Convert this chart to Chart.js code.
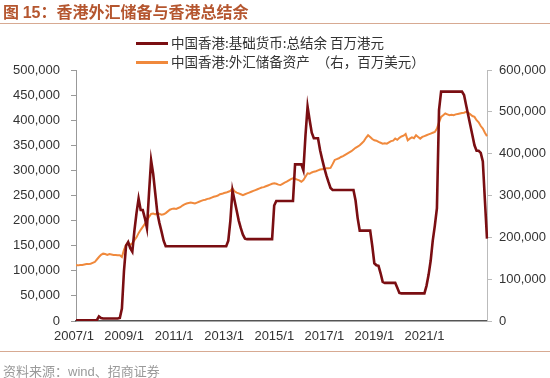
<!DOCTYPE html>
<html><head><meta charset="utf-8">
<script src="https://cdn.jsdelivr.net/npm/chart.js@4/dist/chart.umd.min.js"></script>
<style>
html,body{margin:0;padding:0;background:#fff;}
#wrap{position:relative;width:550px;height:378px;overflow:hidden;}
canvas{position:absolute;left:0;top:0;}
.title{position:absolute;left:3px;top:1px;font-family:"Noto Sans CJK SC","Liberation Sans",sans-serif;font-weight:bold;font-size:16px;line-height:20px;color:#b5562f;white-space:nowrap;}
.title .num{font-family:"Liberation Sans",Arial,sans-serif;}
.hr{position:absolute;left:0;width:550px;height:1px;background:#d7aa92;}
.foot{position:absolute;left:3px;top:361px;font-family:"Noto Sans CJK SC",sans-serif;font-size:13px;color:#9a9a9a;white-space:nowrap;}
.foot .lat{font-family:"Liberation Sans",Arial,sans-serif;}
.leg{position:absolute;left:136px;font-family:"Noto Sans CJK SC",sans-serif;font-size:13.5px;color:#333;white-space:nowrap;line-height:16px;}
.leg i{display:inline-block;width:32px;height:2.5px;vertical-align:middle;margin-right:3px;position:relative;top:-1px;}
.leg .sp{display:inline-block;width:7px;}
</style></head>
<body>
<div id="wrap">
<canvas id="c" width="550" height="378"></canvas>
<div class="title">图 <span class="num">15</span>：香港外汇储备与香港总结余</div>
<div class="hr" style="top:23px"></div>
<div class="leg" style="top:34px"><i style="background:#7a0e12"></i>中国香港:基础货币:总结余 百万港元</div>
<div class="leg" style="top:53px"><i style="background:#f0893c"></i>中国香港:外汇储备资产<span class="sp"></span>（右，百万美元）</div>
<div class="hr" style="top:351px"></div>
<div class="foot">资料来源：<span class="lat">wind</span>、招商证券</div>
</div>
<script>
// x tick labels shown on the axis
const xTickLabels = ['2007/1','2009/1','2011/1','2013/1','2015/1','2017/1','2019/1','2021/1'];
// monthly categories 2007/1 .. 2023/6
const categories = [];
for (let y = 2007; y <= 2023; y++) {
  for (let m = 1; m <= 12; m++) {
    if (y === 2023 && m > 6) break;
    categories.push(y + '/' + m);
  }
}
// 中国香港:基础货币:总结余 (百万港元, left axis)
const aggregateBalance = [
 1500,1500,1500,1500,1500,1500,1500,1500,1500,1500,1500,
 9000,6000,
 5000,5000,5000,5000,5000,5000,5000,5000,
 6000,25000,100000,150000,157000,145000,138000,180000,215000,244000,
 221000,221000,205000,185000,255000,320000,293000,254000,215000,195000,
 178000,160000,
 149000,149000,149000,149000,149000,149000,149000,149000,149000,149000,
 149000,149000,149000,149000,149000,149000,149000,149000,149000,149000,
 149000,149000,149000,149000,149000,149000,149000,149000,149000,149000,
 160000,200000,260000,240000,220000,200000,185000,172000,164000,
 163000,163000,163000,163000,163000,163000,163000,163000,163000,163000,163000,163000,163000,
 230000,
 239000,239000,239000,239000,239000,239000,239000,239000,239000,
 312000,312000,312000,312000,
 300000,370000,427000,400000,375000,
 364000,364000,364000,
 340000,322000,305000,290000,277000,265000,
 261000,261000,261000,261000,261000,261000,261000,261000,261000,261000,261000,
 240000,205000,
 180000,180000,180000,180000,180000,180000,
 150000,115000,111000,110000,95000,78000,
 76000,76000,76000,76000,76000,76000,
 66000,56000,
 55000,55000,55000,55000,55000,55000,55000,55000,55000,55000,55000,55000,
 70000,92000,120000,160000,190000,225000,420000,
 457000,457000,457000,457000,457000,457000,457000,457000,457000,457000,457000,
 450000,430000,410000,390000,370000,350000,339000,339000,335000,318000,240000,164000
];
// 中国香港:外汇储备资产 (百万美元, right axis)
const fxReserves = [
 133000,133000,134000,134000,135000,136000,136000,137000,139000,141000,
 147000,153000,158000,161000,160000,158000,160000,159000,158000,158000,
 157000,157000,153000,170000,182000,187000,182000,186000,193000,200000,
 210000,218000,225000,232000,240000,249000,256000,257000,255000,258000,
 256000,254000,255000,258000,262000,266000,268000,269000,268000,270000,
 272000,276000,279000,281000,282000,283000,282000,281000,283000,285000,
 287000,289000,290000,292000,293000,295000,297000,298000,300000,303000,
 304000,306000,307000,309000,311000,317000,310000,307000,305000,303000,
 301000,303000,305000,307000,309000,311000,313000,315000,317000,319000,
 320000,322000,324000,326000,328000,329000,328000,326000,325000,328000,
 331000,333000,336000,339000,341000,340000,338000,336000,333000,337000,
 345000,353000,352000,355000,357000,358000,360000,362000,363000,364000,
 365000,365000,366000,375000,385000,387000,389000,392000,394000,397000,
 400000,403000,406000,410000,414000,417000,420000,425000,430000,438000,
 444000,440000,435000,432000,431000,428000,426000,424000,425000,424000,
 427000,430000,431000,436000,433000,438000,441000,443000,447000,432000,
 436000,439000,437000,444000,440000,436000,440000,442000,444000,446000,
 448000,450000,452000,460000,475000,488000,492000,496000,494000,492000,
 493000,492000,494000,495000,496000,497000,498000,500000,498000,494000,
 490000,488000,480000,475000,466000,460000,450000,442000
];

const tickFont = {family:'"Liberation Sans", Arial, sans-serif', size:13};
const fmt = v => Number(v).toLocaleString('en-US');

new Chart(document.getElementById('c'), {
  type: 'line',
  data: {
    labels: categories,
    datasets: [
      {label:'中国香港:基础货币:总结余 百万港元', data: aggregateBalance, yAxisID:'y',
       borderColor:'#7a0e12', borderWidth:2.6, pointRadius:0, tension:0, fill:false},
      {label:'中国香港:外汇储备资产 （右，百万美元）', data: fxReserves, yAxisID:'y1',
       borderColor:'#f0893c', borderWidth:2, pointRadius:0, tension:0, fill:false}
    ]
  },
  options: {
    responsive:false, animation:false,
    layout:{padding:{top:70,left:0,right:0,bottom:0}},
    plugins:{legend:{display:false}, tooltip:{enabled:false}},
    scales:{
      x:{
        type:'category', offset:false,
        grid:{drawOnChartArea:false, drawTicks:false},
        border:{display:true, color:'#555', width:1.5},
        ticks:{autoSkip:false, maxRotation:0, minRotation:0, padding:8, labelOffset:-2, color:'#333', font:tickFont,
          callback:function(v,i){ const l = categories[i]; return xTickLabels.includes(l) ? l : null; }},
        afterFit:s=>{s.height=57;}
      },
      y:{
        position:'left', min:0, max:500000,
        grid:{drawOnChartArea:false, drawTicks:true, tickLength:5, color:'#999'},
        border:{display:true, color:'#999', width:1},
        ticks:{stepSize:50000, padding:11, color:'#333', font:tickFont, callback:fmt},
        afterFit:s=>{s.width=76;}
      },
      y1:{
        position:'right', min:0, max:600000,
        grid:{drawOnChartArea:false, drawTicks:true, tickLength:5, color:'#bbb'},
        border:{display:true, color:'#bbb', width:1},
        ticks:{stepSize:100000, padding:7, color:'#333', font:tickFont, callback:fmt},
        afterFit:s=>{s.width=63;}
      }
    }
  }
});
</script>
</body></html>
